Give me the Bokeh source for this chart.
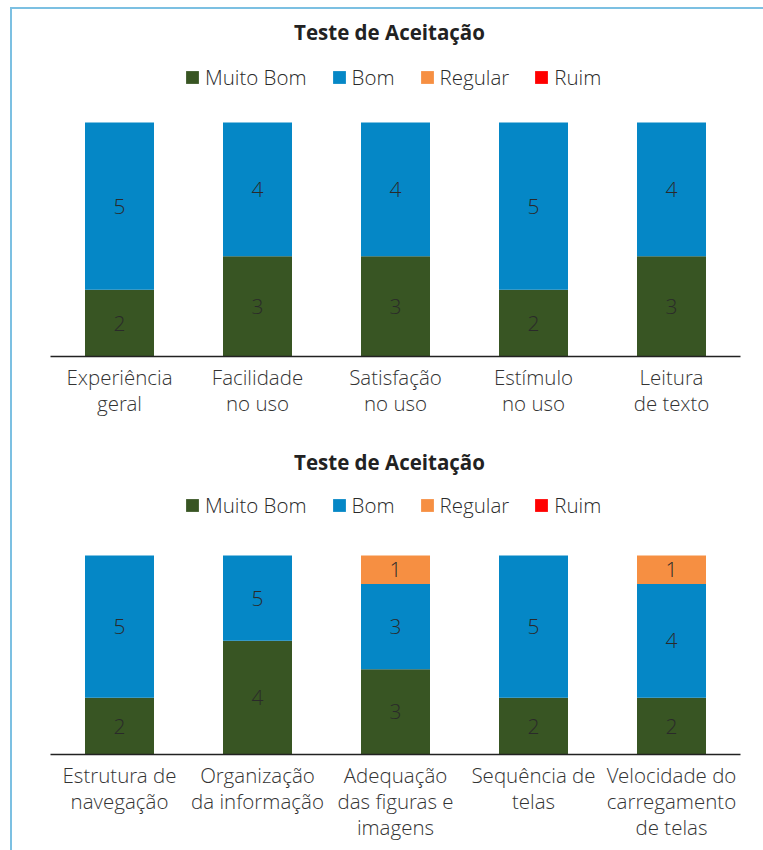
from bokeh.plotting import figure
from bokeh.models import ColumnDataSource, Legend, LegendItem, FactorRange, Range1d, Label
from bokeh.layouts import column
from bokeh.embed import file_html
from bokeh.resources import INLINE
from bokeh.core.properties import value

series = ["Muito Bom", "Bom", "Regular", "Ruim"]
colors = ["#385523", "#0587c6", "#f68f42", "#ff0000"]
chart_title = "Teste de Aceitação"

top_categories = ["Experiência\ngeral", "Facilidade\nno uso", "Satisfação\nno uso",
                  "Estímulo\nno uso", "Leitura\nde texto"]
top_muito_bom = [2, 3, 3, 2, 3]
top_bom = [5, 4, 4, 5, 4]
top_regular = [0, 0, 0, 0, 0]
top_ruim = [0, 0, 0, 0, 0]

bottom_categories = ["Estrutura de\nnavegação", "Organização\nda informação",
                     "Adequação\ndas figuras e\nimagens", "Sequência de\ntelas",
                     "Velocidade do\ncarregamento\nde telas"]
bottom_muito_bom = [2, 4, 3, 2, 2]
bottom_bom = [5, 3, 3, 5, 4]
bottom_regular = [0, 0, 1, 0, 1]
bottom_ruim = [0, 0, 0, 0, 0]
# value labels as printed in the original chart
bottom_bom_labels = ["5", "5", "3", "5", "4"]

LIGHT = "Open Sans Light, Open Sans"
BORDER = "#7cc0e2"
OFF_X = 12
FRAME_LEFT = 50 - OFF_X
FRAME_RIGHT = 23
FIG_W = 763 - OFF_X
FRAME_W = FIG_W - FRAME_LEFT - FRAME_RIGHT


def make_chart(cats, counts, label_override, height, top_pad, bar_px, bottom_pad,
               title_y, legend_y, label_standoff):
    keys = ["s0", "s1", "s2", "s3"]
    totals = [sum(c[j] for c in counts) for j in range(len(cats))]
    data = {"cat": cats}
    for k, c in zip(keys, counts):
        data[k] = [v / t for v, t in zip(c, totals)]
    src = ColumnDataSource(data)

    frame_h = height - top_pad - bottom_pad
    p = figure(x_range=FactorRange(*cats), y_range=Range1d(0, frame_h / bar_px),
               width=FIG_W, height=height, output_backend="svg", toolbar_location=None,
               y_axis_location=None, min_border_left=FRAME_LEFT, min_border_right=FRAME_RIGHT,
               min_border_top=top_pad, min_border_bottom=bottom_pad)
    rs = p.vbar_stack(keys, x="cat", width=0.5, color=colors, source=src, line_width=0)

    # value labels
    lx, ly, lt = [], [], []
    for j, cat in enumerate(cats):
        base = 0.0
        for i, c in enumerate(counts):
            frac = c[j] / totals[j]
            if c[j] > 0:
                lx.append(cat)
                ly.append(base + frac / 2)
                txt = str(c[j])
                if label_override and label_override[i] is not None:
                    txt = label_override[i][j]
                lt.append(txt)
            base += frac
    p.text(x="x", y="y", text="text", source=ColumnDataSource(dict(x=lx, y=ly, text=lt)),
           text_align="center", text_baseline="middle", text_font=value(LIGHT),
           text_font_size="21px", text_color="#2a2a2a")

    p.add_layout(Label(x=FRAME_W / 2 - 6, y=frame_h - title_y, x_units="screen", y_units="screen",
                       text=chart_title, text_align="center", text_baseline="middle",
                       text_font="Open Sans", text_font_size="20.5px", text_font_style="bold",
                       text_color="#222222"))

    legend = Legend(items=[LegendItem(label=s, renderers=[r]) for s, r in zip(series, rs)],
                    orientation="horizontal", location=(134, frame_h - legend_y),
                    glyph_width=16, glyph_height=16, label_standoff=5, spacing=24,
                    padding=0, margin=0, border_line_color=None,
                    background_fill_alpha=0, label_text_font=LIGHT,
                    label_text_font_size="20.5px", label_text_color="#2a2a2a",
                    label_height=16)
    p.add_layout(legend, "center")

    ax = p.xaxis[0]
    ax.major_tick_line_color = None
    ax.minor_tick_line_color = None
    ax.axis_line_color = "#222222"
    ax.axis_line_width = 1.5
    ax.major_label_text_font = LIGHT
    ax.major_label_text_font_size = "20.5px"
    ax.major_label_text_color = "#333333"
    ax.major_label_text_line_height = 0.93
    ax.major_label_standoff = label_standoff
    ax.major_label_orientation = "horizontal"

    p.xgrid.grid_line_color = None
    p.ygrid.grid_line_color = None
    p.outline_line_color = None
    return p


# top chart: figure starts at canvas y=9; frame from 14 to 356, bars 234 px tall
p1 = make_chart(top_categories, [top_muito_bom, top_bom, top_regular, top_ruim], None,
                421, 5, 234, 74, 31 - 14, 91 - 14, 0)
# bottom chart: figure starts at canvas y=430; frame from 435 to 754, bars 199 px tall
p2 = make_chart(bottom_categories, [bottom_muito_bom, bottom_bom, bottom_regular, bottom_ruim],
                [None, bottom_bom_labels, None, None], 420, 5, 199, 96, 461 - 435, 519 - 435, 0)

layout = column(p1, p2, spacing=0, margin=(7, 0, 0, 10),
                styles={"border-left": f"2px solid {BORDER}", "border-top": f"2px solid {BORDER}"})
open("out.html", "w").write(file_html(layout, INLINE))
